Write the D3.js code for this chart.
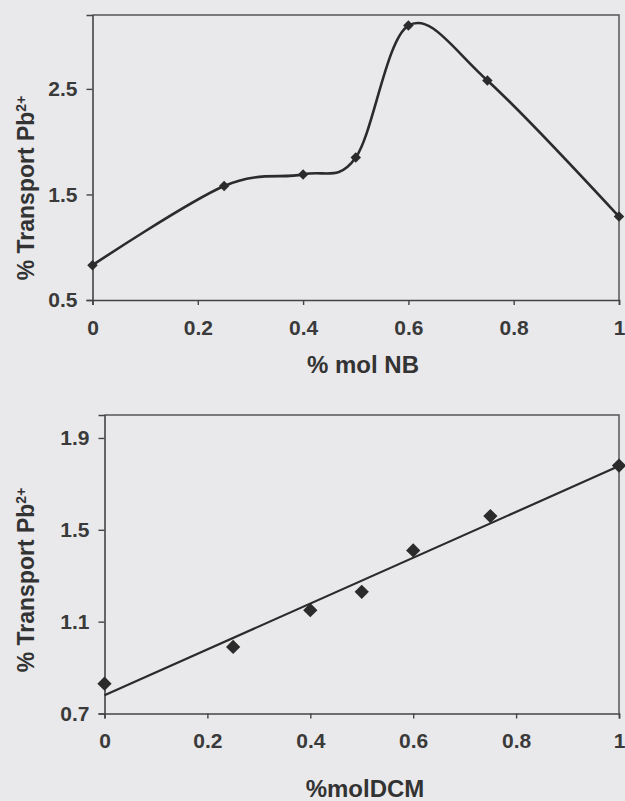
<!DOCTYPE html>
<html>
<head>
<meta charset="utf-8">
<script src="https://cdn.jsdelivr.net/npm/d3@7"></script>
<style>
  html, body { margin: 0; padding: 0; background: #e9e9eb; }
  svg { display: block; }
  .tick text { font-family: "Liberation Sans", Arial, sans-serif; font-weight: bold; fill: #3a3a3a; }
  .axis-title { font-family: "Liberation Sans", Arial, sans-serif; font-weight: bold; fill: #333; }
</style>
</head>
<body>
<div id="wrapper"></div>
<script>
// Top panel: transport vs. mole fraction of NB
const nbFraction = [0, 0.25, 0.4, 0.5, 0.6, 0.75, 1]
const nbTransport = [0.83, 1.58, 1.69, 1.85, 3.10, 2.58, 1.29]
const nbYTicks = [0.5, 1.5, 2.5]

// Bottom panel: transport vs. mole fraction of DCM
const dcmFraction = [0, 0.25, 0.4, 0.5, 0.6, 0.75, 1]
const dcmTransport = [0.83, 0.99, 1.15, 1.23, 1.41, 1.56, 1.78]
const dcmYTicks = [0.7, 1.1, 1.5, 1.9]

const xTicks = [0, 0.2, 0.4, 0.6, 0.8, 1]

const width = 625
const height = 801
const ink = "#2b2b2b"

const svg = d3.select("#wrapper").append("svg")
    .attr("width", width)
    .attr("height", height)

svg.append("rect")
    .attr("width", width)
    .attr("height", height)
    .attr("fill", "#e9e9eb")

// **************************
// One panel: frame, axes, titles
// **************************
function drawPanel(opts) {
  const xScale = d3.scaleLinear()
    .domain([0, 1])
    .range([opts.left, opts.right])
  const yScale = d3.scaleLinear()
    .domain(opts.yDomain)
    .range([opts.bottom, opts.top])

  const g = svg.append("g")

  // plot area frame (top + right)
  g.append("path")
      .attr("d", `M${opts.left},${opts.top}H${opts.right}V${opts.bottom}`)
      .attr("fill", "none")
      .attr("stroke", "#555")
      .attr("stroke-width", 1.5)

  const yAxis = g.append("g")
      .attr("transform", `translate(${opts.left},0)`)
      .call(d3.axisLeft(yScale).tickValues(opts.yTicks).tickSize(6).tickPadding(9)
        .tickFormat(d3.format(".1f")))
  const xAxis = g.append("g")
      .attr("transform", `translate(0,${opts.bottom})`)
      .call(d3.axisBottom(xScale).tickValues(xTicks).tickSize(5).tickPadding(15)
        .tickFormat(d => String(d)))

  for (const ax of [yAxis, xAxis]) {
    ax.select(".domain").attr("stroke", "#444").attr("stroke-width", 1.6)
    ax.selectAll(".tick line").attr("stroke", "#444").attr("stroke-width", 1.4)
    ax.selectAll(".tick text").style("font-size", "21px")
  }

  g.append("text")
      .attr("class", "axis-title")
      .attr("x", opts.xTitleX)
      .attr("y", opts.xTitleY)
      .attr("text-anchor", "middle")
      .style("font-size", "24px")
      .text(opts.xTitle)

  const yTitle = g.append("text")
      .attr("class", "axis-title")
      .attr("transform", `translate(${opts.yTitleX},${opts.yTitleY}) rotate(-90)`)
      .attr("text-anchor", "middle")
      .style("font-size", "23px")
  yTitle.append("tspan").text("% Transport Pb")
  yTitle.append("tspan")
      .attr("dy", "-0.55em")
      .style("font-size", "14px")
      .text("2+")

  return { g, xScale, yScale }
}

// **************************
// Top chart: smoothed line with small markers
// **************************
const nbChart = drawPanel({
  left: 92.5, right: 619, top: 15, bottom: 300,
  yDomain: [0.5, 3.2], yTicks: nbYTicks,
  xTitle: "% mol NB", xTitleX: 363, xTitleY: 373,
  yTitleX: 34, yTitleY: 188
})

const nbData = nbFraction.map((x, i) => ({ x, y: nbTransport[i] }))

const nbLine = d3.line()
    .x(d => nbChart.xScale(d.x))
    .y(d => nbChart.yScale(d.y))
    .curve(d3.curveCardinal.tension(0))

nbChart.g.append("path")
    .attr("d", nbLine(nbData))
    .attr("fill", "none")
    .attr("stroke", ink)
    .attr("stroke-width", 2.6)

nbChart.g.selectAll(".nb-marker")
  .data(nbData)
  .join("path")
    .attr("class", "nb-marker")
    .attr("d", d3.symbol(d3.symbolDiamond2, 70))
    .attr("transform", d => `translate(${nbChart.xScale(d.x)},${nbChart.yScale(d.y)})`)
    .attr("fill", ink)

// **************************
// Bottom chart: diamonds with least-squares trend line
// **************************
const dcmChart = drawPanel({
  left: 104.5, right: 619, top: 415, bottom: 713.5,
  yDomain: [0.7, 2.0], yTicks: dcmYTicks,
  xTitle: "%molDCM", xTitleX: 365, xTitleY: 797,
  yTitleX: 34, yTitleY: 580
})

const dcmData = dcmFraction.map((x, i) => ({ x, y: dcmTransport[i] }))

const meanX = d3.mean(dcmData, d => d.x)
const meanY = d3.mean(dcmData, d => d.y)
const slope = d3.sum(dcmData, d => (d.x - meanX) * (d.y - meanY))
  / d3.sum(dcmData, d => (d.x - meanX) ** 2)
const intercept = meanY - slope * meanX

dcmChart.g.append("line")
    .attr("x1", dcmChart.xScale(0))
    .attr("y1", dcmChart.yScale(intercept))
    .attr("x2", dcmChart.xScale(1))
    .attr("y2", dcmChart.yScale(intercept + slope))
    .attr("stroke", ink)
    .attr("stroke-width", 2.2)

dcmChart.g.selectAll(".dcm-marker")
  .data(dcmData)
  .join("path")
    .attr("class", "dcm-marker")
    .attr("d", d3.symbol(d3.symbolDiamond2, 130))
    .attr("transform", d => `translate(${dcmChart.xScale(d.x)},${dcmChart.yScale(d.y)})`)
    .attr("fill", ink)
</script>
</body>
</html>
